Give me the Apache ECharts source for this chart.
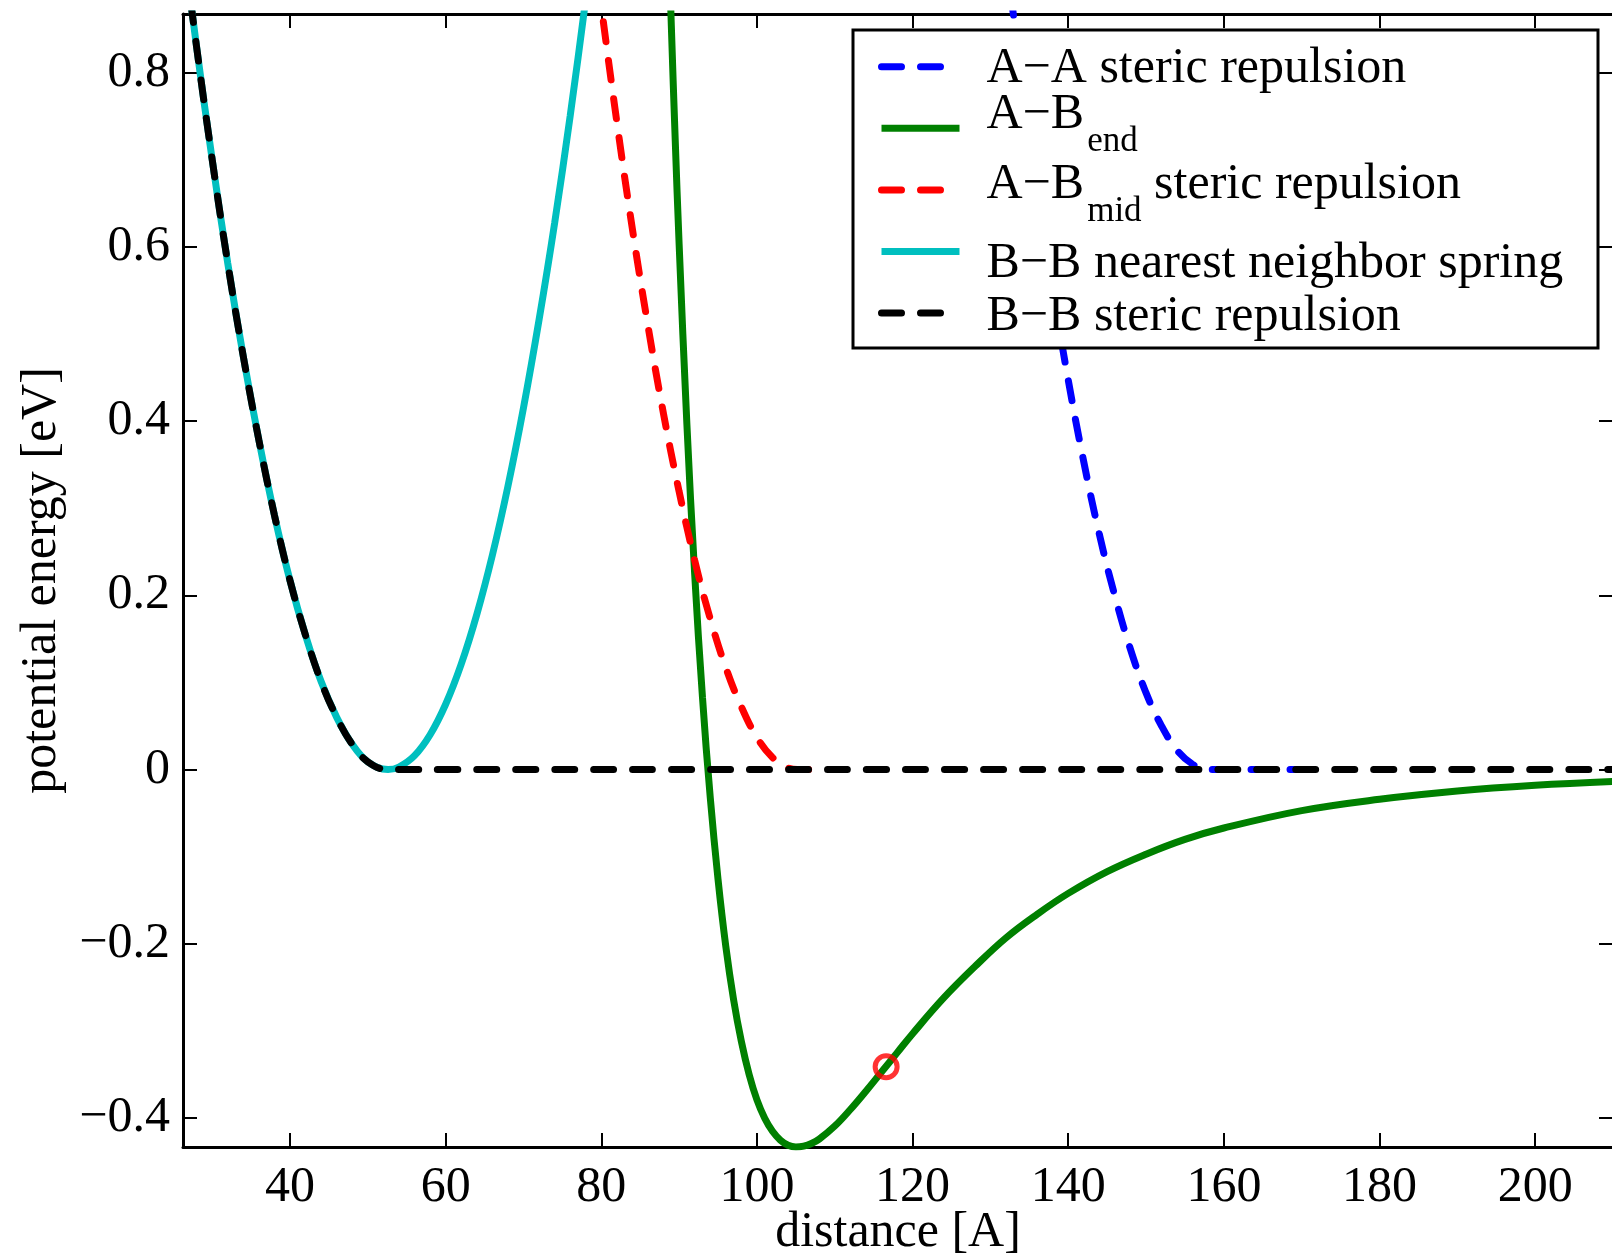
<!DOCTYPE html>
<html>
<head>
<meta charset="utf-8">
<script src="https://cdn.jsdelivr.net/npm/echarts@6/dist/echarts.min.js"></script>
<style>
  html, body { margin: 0; padding: 0; background: #ffffff; }
  #chart { width: 1612px; height: 1260px; }
</style>
</head>
<body>
<div id="chart"></div>
<script>
// Pair potentials of the coarse-grained model versus bead separation.

const xTicks = [40, 60, 80, 100, 120, 140, 160, 180, 200];
const yTicks = [-0.4, -0.2, 0, 0.2, 0.4, 0.6, 0.8];

const seriesNames = [
  'A-A steric repulsion',
  'A-B end',
  'A-B mid steric repulsion',
  'B-B nearest neighbor spring',
  'B-B steric repulsion'
];

// A-A steric repulsion
const aaX = [132, 133, 134, 136, 138, 140, 142, 144, 146, 148, 150, 152, 154, 156, 158, 160, 169];
const aaY = [0.933, 0.863, 0.795, 0.668, 0.552, 0.447, 0.353, 0.270, 0.199, 0.138, 0.088, 0.050, 0.022, 0.006, 0, 0, 0];

// A-B(end) attraction well
const abEndX = [88, 88.5, 89, 89.5, 90, 91, 92, 93, 94, 95, 96, 97, 98, 99, 100, 101, 102, 103, 104, 105, 106, 107, 108,
  110, 112, 114, 116, 118, 120, 124, 128, 132, 136, 140, 145, 150, 155, 160, 170, 180, 190, 200, 210];
const abEndY = [1.154, 0.997, 0.853, 0.722, 0.603, 0.396, 0.224, 0.083, -0.032, -0.126, -0.203, -0.264, -0.312, -0.350,
  -0.379, -0.400, -0.415, -0.425, -0.431, -0.433, -0.432, -0.429, -0.424, -0.409, -0.390, -0.369, -0.347, -0.325, -0.303,
  -0.262, -0.226, -0.193, -0.166, -0.142, -0.117, -0.097, -0.080, -0.067, -0.047, -0.034, -0.0245, -0.018, -0.0136];

// A-B(mid) steric repulsion
const abMidX = [79, 80, 82, 84, 86, 88, 90, 92, 94, 96, 98, 100, 102, 104, 105.2, 106, 108];
const abMidY = [0.947, 0.876, 0.743, 0.620, 0.509, 0.408, 0.319, 0.240, 0.173, 0.117, 0.072, 0.037, 0.014, 0.002, 0, 0, 0];

// B-B nearest neighbour spring
const springX = [26, 28, 30, 32, 34, 36, 38, 40, 42, 44, 46, 48, 50, 52.6, 54, 56, 58, 60, 62, 64, 66, 68, 70, 72, 74, 76, 78, 79];
const springY = [0.969, 0.829, 0.700, 0.581, 0.474, 0.378, 0.292, 0.217, 0.154, 0.101, 0.060, 0.029, 0.009, 0, 0.003,
  0.016, 0.040, 0.075, 0.121, 0.178, 0.246, 0.325, 0.415, 0.516, 0.627, 0.750, 0.884, 0.955];

// B-B steric repulsion
const bbX = [26, 28, 30, 32, 34, 36, 38, 40, 42, 44, 46, 48, 50, 52.6, 54, 60, 100, 210];
const bbY = [0.969, 0.829, 0.700, 0.581, 0.474, 0.378, 0.292, 0.217, 0.154, 0.101, 0.060, 0.029, 0.009, 0, 0, 0, 0, 0];

// highlighted operating point on the A-B(end) curve
const markX = [116.6];
const markY = [-0.341];

const pairs = (xs, ys) => xs.map((x, i) => [x, ys[i]]);

const FONT = 'Liberation Serif';
const FS = 50;
const LW = 7;
const DASH = [20, 19];

function lineSeries(name, xs, ys, color, dashed, z) {
  return {
    name: name,
    type: 'line',
    data: pairs(xs, ys),
    symbol: 'none',
    showSymbol: false,
    smooth: 0.4,
    clip: true,
    z: z,
    itemStyle: { color: color },
    lineStyle: { color: color, width: LW, type: dashed ? DASH : 'solid', cap: dashed ? 'round' : 'butt' },
    emphasis: { disabled: true }
  };
}

const legendText = {
  'A-A steric repulsion': '{a|A\u2212A steric repulsion}',
  'A-B end': '{e1|A\u2212B}{e2|end}',
  'A-B mid steric repulsion': '{m1|A\u2212B}{m2|mid}{m3| steric repulsion}',
  'B-B nearest neighbor spring': '{n|B\u2212B nearest neighbor spring}',
  'B-B steric repulsion': '{s|B\u2212B steric repulsion}'
};

// Main legend tokens all get the same total vertical padding (40) and an
// invisible background, so every legend row has the same height; the split of
// the padding between top and bottom nudges the glyphs up or down.
const mainTok = (top, left) => ({
  fontFamily: FONT, fontSize: FS, color: '#000',
  backgroundColor: 'rgba(255,255,255,0)',
  padding: [top, 0, 40 - top, left]
});
const subTok = (top) => ({ fontFamily: FONT, fontSize: 35, color: '#000', padding: [top, 0, 0, 3] });

const axisCommon = {
  type: 'value',
  splitLine: { show: false },
  axisLine: { show: true, onZero: false, lineStyle: { color: '#000', width: 3 } }
};

const chart = echarts.init(document.getElementById('chart'), null, { renderer: 'canvas' });

chart.setOption({
  animation: false,
  backgroundColor: '#ffffff',
  grid: { left: 183, top: 14, width: 1430, height: 1133, containLabel: false, outerBoundsMode: 'none' },
  xAxis: [
    Object.assign({}, axisCommon, {
      position: 'bottom',
      min: 26.25, max: 210,
      name: 'distance [A]',
      nameLocation: 'middle',
      nameGap: 61,
      nameMoveOverlap: false,
      nameTextStyle: { fontFamily: FONT, fontSize: FS, color: '#000' },
      axisTick: { inside: true, length: 14, customValues: xTicks, lineStyle: { color: '#000', width: 2 } },
      axisLabel: { customValues: xTicks, fontFamily: FONT, fontSize: FS, color: '#000', margin: 16 }
    }),
    Object.assign({}, axisCommon, {
      position: 'top',
      min: 26.25, max: 210,
      axisTick: { inside: true, length: 14, customValues: xTicks, lineStyle: { color: '#000', width: 2 } },
      axisLabel: { show: false }
    })
  ],
  yAxis: [
    Object.assign({}, axisCommon, {
      position: 'left',
      min: -0.433, max: 0.867,
      name: 'potential energy [eV]',
      nameLocation: 'middle',
      nameGap: 116,
      nameMoveOverlap: false,
      nameTextStyle: { fontFamily: FONT, fontSize: FS, color: '#000' },
      axisTick: { inside: true, length: 14, customValues: yTicks, lineStyle: { color: '#000', width: 2 } },
      axisLabel: {
        customValues: yTicks, fontFamily: FONT, fontSize: FS, color: '#000', margin: 13,
        padding: [12, 0, 0, 0],
        formatter: v => (v < 0 ? '\u2212' + String(Math.abs(v)) : String(v))
      }
    }),
    Object.assign({}, axisCommon, {
      position: 'right',
      min: -0.433, max: 0.867,
      axisTick: { inside: true, length: 14, customValues: yTicks, lineStyle: { color: '#000', width: 2 } },
      axisLabel: { show: false }
    })
  ],
  // legend frame
  graphic: [{
    type: 'rect',
    z: 9,
    shape: { x: 853, y: 30, width: 745, height: 318 },
    style: { fill: '#ffffff', stroke: '#000000', lineWidth: 3 }
  }],
  legend: {
    data: seriesNames,
    orient: 'vertical',
    left: 878,
    top: 21.7,
    padding: 0,
    itemWidth: 78,
    itemHeight: 14,
    itemGap: -28.4,
    backgroundColor: 'rgba(0,0,0,0)',
    borderWidth: 0,
    selectedMode: false,
    z: 10,
    itemStyle: { opacity: 0 },
    lineStyle: { width: LW },
    formatter: name => legendText[name],
    textStyle: {
      fontFamily: FONT, fontSize: FS, color: '#000',
      rich: {
        a: mainTok(22, 22),
        e1: mainTok(7, 22),
        e2: subTok(28),
        m1: mainTok(14.5, 22),
        m2: subTok(44),
        m3: mainTok(14.5, 0),
        n: mainTok(32, 22),
        s: mainTok(24, 22)
      }
    }
  },
  series: [
    lineSeries(seriesNames[0], aaX, aaY, '#0000ff', true, 2),
    lineSeries(seriesNames[1], abEndX, abEndY, '#008000', false, 3),
    lineSeries(seriesNames[2], abMidX, abMidY, '#ff0000', true, 4),
    lineSeries(seriesNames[3], springX, springY, '#00bfbf', false, 5),
    lineSeries(seriesNames[4], bbX, bbY, '#000000', true, 6),
    {
      name: 'operating point',
      type: 'scatter',
      data: pairs(markX, markY),
      symbol: 'circle',
      symbolSize: 22,
      z: 8,
      itemStyle: { color: 'rgba(255,255,255,0)', borderColor: '#ff0000', borderWidth: 5 },
      emphasis: { disabled: true }
    }
  ]
});
</script>
</body>
</html>
